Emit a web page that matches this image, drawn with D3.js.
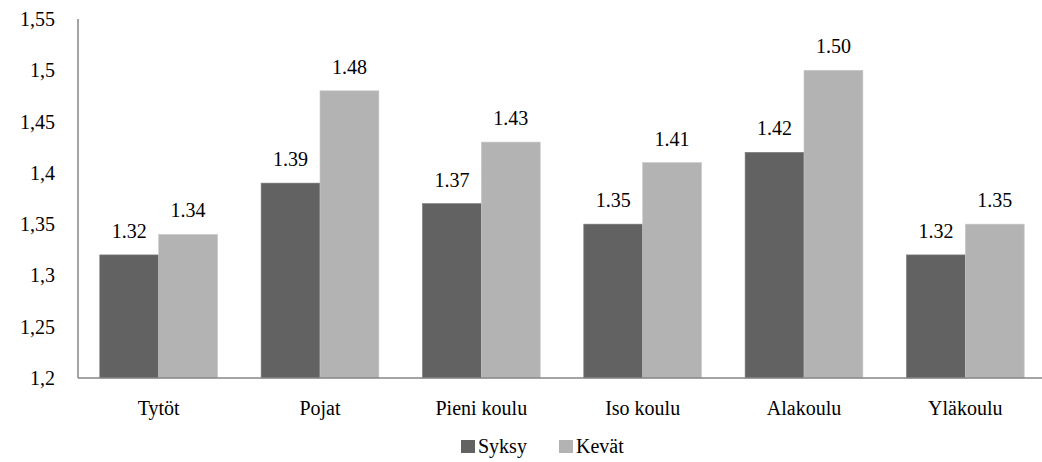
<!DOCTYPE html>
<html>
<head>
<meta charset="utf-8">
<script src="https://cdn.jsdelivr.net/npm/d3@7"></script>
</head>
<body style="margin:0">
<svg id="chart" width="1042" height="462"></svg>
<script>
// Group labels and the two measurement rounds
const categories = ["Tytöt", "Pojat", "Pieni koulu", "Iso koulu", "Alakoulu", "Yläkoulu"];
const seriesNames = ["Syksy", "Kevät"];
const syksy = [1.32, 1.39, 1.37, 1.35, 1.42, 1.32];
const kevat = [1.34, 1.48, 1.43, 1.41, 1.50, 1.35];
const yTicks = [1.2, 1.25, 1.3, 1.35, 1.4, 1.45, 1.5, 1.55];

const colors = { "Syksy": "#626262", "Kevät": "#b3b3b3" };
const seriesValues = { "Syksy": syksy, "Kevät": kevat };

const svg = d3.select("#chart");
const plotLeft = 78, plotRight = 1046, plotTop = 19, plotBottom = 378;

const x0 = d3.scaleBand().domain(categories).range([plotLeft, plotRight]).paddingInner(0.27).paddingOuter(0.135);
const x1 = d3.scaleBand().domain(seriesNames).range([0, x0.bandwidth()]);
const y = d3.scaleLinear().domain([1.2, 1.55]).range([plotBottom, plotTop]);

const fmtTick = v => d3.format(".2~f")(v).replace(".", ",");

// All chart text in Liberation Serif
function serifText(sel) {
  sel.attr("font-size", 20).attr("fill", "#000").style("font-family", "'Liberation Serif', monospace");
}

// Bars
svg.selectAll("rect.bar")
  .data(categories.flatMap((c, i) => seriesNames.map(s => ({ c, s, v: seriesValues[s][i] }))))
  .join("rect")
  .attr("class", "bar")
  .attr("x", d => x0(d.c) + x1(d.s))
  .attr("width", x1.bandwidth())
  .attr("y", d => y(d.v))
  .attr("height", d => plotBottom - y(d.v))
  .attr("fill", d => colors[d.s])
  .attr("stroke", d => d.s === "Syksy" ? "#7a7a7a" : "#c8c8c8")
  .attr("stroke-width", 0.6);

// Value labels
svg.selectAll("text.val")
  .data(categories.flatMap((c, i) => seriesNames.map(s => ({ c, s, v: seriesValues[s][i] }))))
  .join("text")
  .attr("class", "val")
  .attr("x", d => x0(d.c) + x1(d.s) + x1.bandwidth() / 2)
  .attr("y", d => y(d.v) - 17)
  .attr("text-anchor", "middle")
  .call(serifText)
  .text(d => d3.format(".2f")(d.v));

// Y axis line
svg.append("line")
  .attr("x1", plotLeft).attr("x2", plotLeft)
  .attr("y1", y(1.55)).attr("y2", y(1.2))
  .attr("stroke", "#868686").attr("stroke-width", 1.5);

// Y tick labels
svg.selectAll("text.ytick")
  .data(yTicks)
  .join("text")
  .attr("class", "ytick")
  .attr("x", plotLeft - 23)
  .attr("y", d => y(d) + 7)
  .attr("text-anchor", "end")
  .call(serifText)
  .text(fmtTick);

// X axis line
svg.append("line")
  .attr("x1", plotLeft).attr("x2", plotRight)
  .attr("y1", plotBottom).attr("y2", plotBottom)
  .attr("stroke", "#868686").attr("stroke-width", 1.5);

// Category labels
svg.selectAll("text.xcat")
  .data(categories)
  .join("text")
  .attr("class", "xcat")
  .attr("x", d => x0(d) + x0.bandwidth() / 2)
  .attr("y", plotBottom + 37)
  .attr("text-anchor", "middle")
  .call(serifText)
  .text(d => d);

// Legend
const legendItems = [{ s: "Syksy", x: 461 }, { s: "Kevät", x: 559 }];
svg.selectAll("rect.key").data(legendItems).join("rect")
  .attr("class", "key")
  .attr("x", d => d.x).attr("y", 440).attr("width", 14).attr("height", 13)
  .attr("fill", d => colors[d.s]);
svg.selectAll("text.key").data(legendItems).join("text")
  .attr("class", "key")
  .attr("x", d => d.x + 17).attr("y", 453)
  .call(serifText)
  .text(d => d.s);
</script>
</body>
</html>
